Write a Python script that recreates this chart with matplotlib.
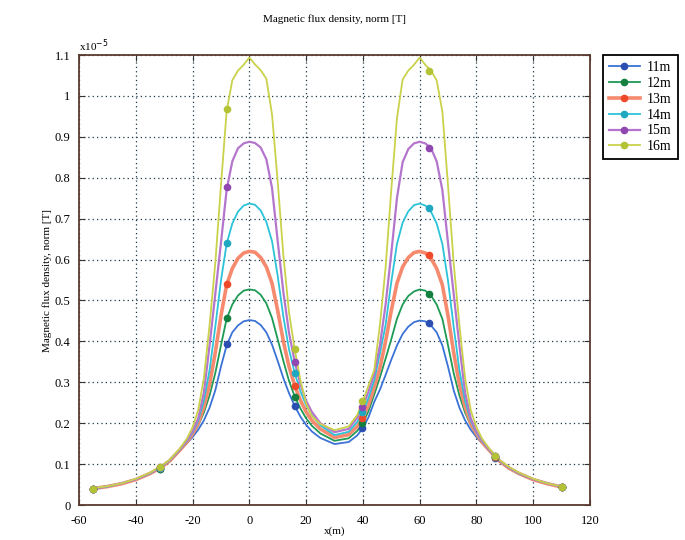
import matplotlib
matplotlib.use('Agg')
import matplotlib.pyplot as plt
from matplotlib.lines import Line2D
from matplotlib.ticker import FuncFormatter

plt.rcParams['font.family'] = ['Liberation Serif', 'DejaVu Serif']
plt.rcParams['axes.unicode_minus'] = False

# x positions (m) of the computed curves
x = [-55, -50, -45, -40, -35, -31.5, -28, -24.5, -22, -20, -18, -16, -14, -12, -10, -8, -6, -4, -2, 0,
     2, 4, 6, 8, 10, 12, 14, 16, 18, 20, 22, 25, 30,
     35, 38, 40, 42, 44, 46, 48, 50, 52, 54, 56, 58, 60,
     62, 64, 66, 68, 70, 72, 74, 76, 78, 80, 82, 84.5, 88, 91.5, 95, 100, 105, 110]

# flux density, in units of 1e-5 T
b11 = [0.040, 0.045, 0.052, 0.062, 0.076, 0.089, 0.107, 0.133, 0.151, 0.166, 0.184, 0.207, 0.238, 0.280, 0.338, 0.390, 0.422, 0.439, 0.449, 0.452,
       0.450, 0.440, 0.422, 0.392, 0.352, 0.310, 0.273, 0.242, 0.216, 0.196, 0.180, 0.164, 0.149,
       0.154, 0.170, 0.188, 0.215, 0.252, 0.282, 0.318, 0.355, 0.390, 0.418, 0.436, 0.447, 0.451,
       0.449, 0.439, 0.422, 0.390, 0.338, 0.280, 0.238, 0.207, 0.184, 0.166, 0.151, 0.133, 0.107, 0.089, 0.076, 0.062, 0.052, 0.044]
b12 = [0.040, 0.045, 0.052, 0.062, 0.076, 0.089, 0.107, 0.133, 0.152, 0.171, 0.195, 0.226, 0.268, 0.322, 0.390, 0.455, 0.490, 0.512, 0.524, 0.527,
       0.525, 0.514, 0.493, 0.457, 0.405, 0.352, 0.303, 0.265, 0.236, 0.212, 0.194, 0.175, 0.157,
       0.163, 0.181, 0.200, 0.230, 0.270, 0.312, 0.358, 0.405, 0.455, 0.490, 0.511, 0.522, 0.527,
       0.524, 0.512, 0.490, 0.455, 0.390, 0.322, 0.268, 0.226, 0.195, 0.171, 0.152, 0.133, 0.107, 0.089, 0.076, 0.062, 0.052, 0.044]
b13 = [0.040, 0.045, 0.052, 0.062, 0.077, 0.090, 0.108, 0.134, 0.154, 0.174, 0.200, 0.240, 0.295, 0.372, 0.462, 0.538, 0.578, 0.603, 0.616, 0.620,
       0.618, 0.605, 0.582, 0.542, 0.475, 0.400, 0.338, 0.292, 0.256, 0.228, 0.207, 0.186, 0.165,
       0.172, 0.192, 0.213, 0.245, 0.288, 0.335, 0.400, 0.475, 0.542, 0.582, 0.605, 0.617, 0.620,
       0.616, 0.603, 0.578, 0.538, 0.462, 0.372, 0.295, 0.240, 0.200, 0.174, 0.154, 0.134, 0.108, 0.090, 0.077, 0.062, 0.052, 0.044]
b14 = [0.040, 0.045, 0.053, 0.063, 0.077, 0.091, 0.109, 0.135, 0.156, 0.177, 0.206, 0.255, 0.330, 0.435, 0.548, 0.638, 0.688, 0.717, 0.732, 0.737,
       0.734, 0.720, 0.692, 0.645, 0.560, 0.460, 0.380, 0.322, 0.278, 0.244, 0.220, 0.195, 0.171,
       0.179, 0.203, 0.227, 0.262, 0.305, 0.370, 0.440, 0.545, 0.638, 0.690, 0.718, 0.733, 0.737,
       0.732, 0.717, 0.688, 0.638, 0.548, 0.435, 0.330, 0.255, 0.206, 0.177, 0.156, 0.135, 0.109, 0.091, 0.077, 0.063, 0.053, 0.044]
b15 = [0.040, 0.046, 0.053, 0.063, 0.078, 0.092, 0.110, 0.136, 0.158, 0.180, 0.212, 0.275, 0.390, 0.515, 0.640, 0.770, 0.840, 0.872, 0.884, 0.888,
       0.885, 0.874, 0.845, 0.775, 0.645, 0.520, 0.420, 0.350, 0.295, 0.255, 0.228, 0.200, 0.178,
       0.186, 0.213, 0.240, 0.278, 0.320, 0.390, 0.490, 0.615, 0.750, 0.838, 0.870, 0.884, 0.888,
       0.884, 0.872, 0.840, 0.770, 0.640, 0.515, 0.390, 0.275, 0.212, 0.180, 0.158, 0.136, 0.110, 0.092, 0.078, 0.063, 0.053, 0.045]
b16 = [0.041, 0.046, 0.053, 0.064, 0.079, 0.093, 0.111, 0.138, 0.162, 0.190, 0.232, 0.310, 0.440, 0.590, 0.780, 0.962, 1.038, 1.062, 1.076, 1.094,
       1.077, 1.063, 1.042, 0.955, 0.790, 0.610, 0.470, 0.380, 0.305, 0.248, 0.218, 0.198, 0.183,
       0.192, 0.220, 0.254, 0.292, 0.330, 0.440, 0.580, 0.770, 0.945, 1.040, 1.062, 1.076, 1.094,
       1.076, 1.062, 1.038, 0.962, 0.780, 0.590, 0.440, 0.310, 0.232, 0.190, 0.162, 0.138, 0.111, 0.093, 0.079, 0.064, 0.053, 0.045]

# measured points
xm = [-55, -31.5, -7.9, 16, 39.8, 63.3, 86.5, 110]
m11 = [0.040, 0.089, 0.394, 0.242, 0.188, 0.444, 0.116, 0.043]
m12 = [0.040, 0.089, 0.456, 0.265, 0.200, 0.515, 0.117, 0.043]
m13 = [0.040, 0.090, 0.540, 0.292, 0.213, 0.610, 0.118, 0.043]
m14 = [0.040, 0.091, 0.640, 0.323, 0.227, 0.725, 0.119, 0.043]
m15 = [0.040, 0.092, 0.778, 0.350, 0.240, 0.872, 0.120, 0.043]
m16 = [0.040, 0.093, 0.968, 0.381, 0.254, 1.060, 0.121, 0.043]

labels = ['11m', '12m', '13m', '14m', '15m', '16m']
curves = [b11, b12, b13, b14, b15, b16]
points = [m11, m12, m13, m14, m15, m16]
line_colors = ['#3b72d6', '#1e9a55', '#f58a6e', '#2cc3d8', '#b476cc', '#c9d24a']
mark_colors = ['#2a4fb0', '#138040', '#ee4a2a', '#20a8c0', '#9048b0', '#b4c236']
widths = [1.3, 1.3, 2.6, 1.3, 1.6, 1.3]

fig = plt.figure(figsize=(6.85, 5.4), dpi=100)
ax = fig.add_axes([0.1153, 0.0648, 0.7460, 0.8333])

handles = []
for lab, yv, ym, lc, mc, lw in zip(labels, curves, points, line_colors, mark_colors, widths):
    ax.plot(x, yv, color=lc, lw=lw, zorder=3)
    ax.plot(xm, ym, 'o', color=mc, ms=4.5, mec=mc, zorder=4)
    handles.append(Line2D([], [], color=lc, lw=lw, marker='o', ms=4.5, mfc=mc, mec=mc))

ax.set_xlim(-60, 120)
ax.set_ylim(0, 1.1)
ax.set_xticks(range(-60, 121, 20))
ax.set_yticks([i / 10 for i in range(12)])
ax.yaxis.set_major_formatter(FuncFormatter(lambda v, p: '%g' % round(v, 2)))
ax.tick_params(direction='in', top=True, right=True, length=4, labelsize=9, color='#333333')
ax.tick_params(axis='x', pad=7)
ax.tick_params(axis='y', pad=6)
ax.grid(True, linestyle=(0, (1, 2.5)), color='#1c3644', lw=0.9)
for s in ax.spines.values():
    s.set_color('#5a3a30')
    s.set_linewidth(1.3)

ax.set_title('Magnetic flux density, norm [T]', fontsize=8, pad=24)
ax.set_xlabel('x(m)', fontsize=8, labelpad=0)
ax.set_ylabel('Magnetic flux density, norm [T]', fontsize=8, labelpad=2)
ax.text(0.0, 1.003, 'x10$^{-5}$', transform=ax.transAxes, fontsize=8, va='bottom', ha='left')

leg = fig.legend(handles, labels, loc='upper left', bbox_to_anchor=(0.880, 0.898),
                 borderaxespad=0, fontsize=10, fancybox=False, edgecolor='black', framealpha=1,
                 handlelength=2.2, handletextpad=0.5, borderpad=0.45, labelspacing=0.2)
leg.get_frame().set_linewidth(1.3)

plt.savefig('out.png', dpi=100)
